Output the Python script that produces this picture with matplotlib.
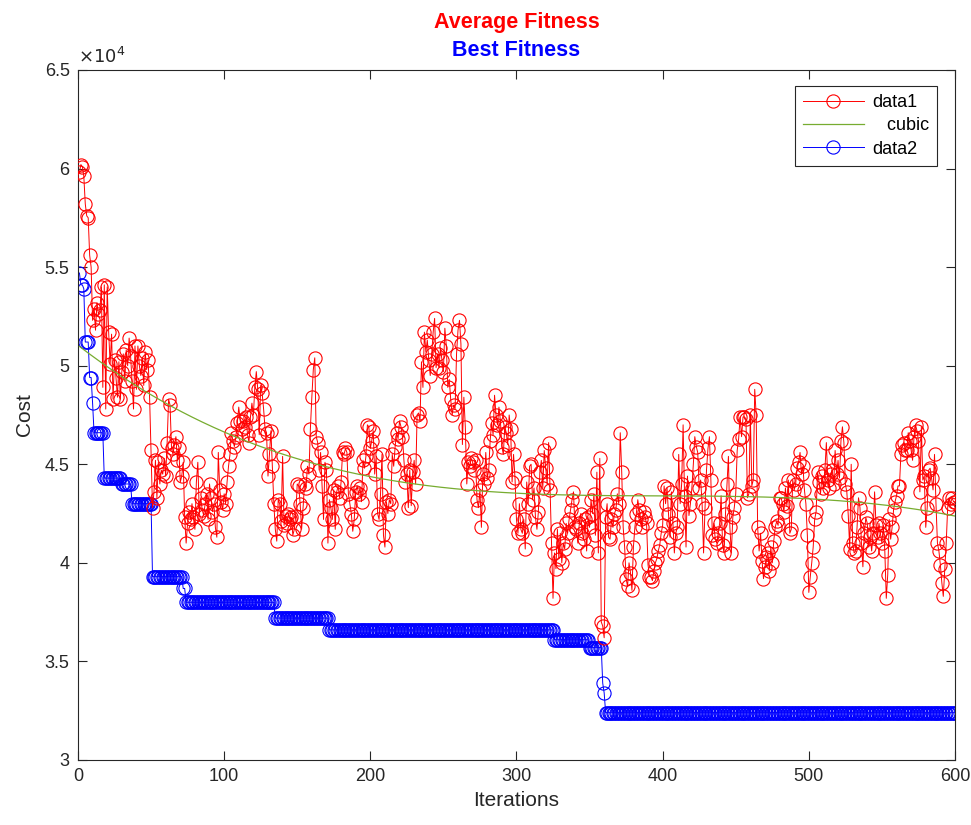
import numpy as np
import matplotlib
matplotlib.use("Agg")
import matplotlib.pyplot as plt
from matplotlib.ticker import FuncFormatter, MultipleLocator

# Average fitness per iteration (units of 1e4)
avg_fitness = [
    # 1-77
    5.98, 6.02, 6.01, 5.96, 5.82, 5.76, 5.75, 5.56, 5.50, 5.23,
    5.29, 5.18, 5.32, 5.26, 5.28, 5.40, 4.89, 5.41, 4.78, 5.40,
    5.17, 5.01, 5.16, 4.83, 5.03, 4.94, 4.84, 5.02, 4.83, 4.97,
    5.06, 4.92, 5.08, 5.00, 5.14, 5.05, 4.92, 4.78, 5.10, 4.88,
    5.10, 5.00, 4.95, 5.04, 4.90, 5.07, 4.98, 5.03, 4.84, 4.57,
    4.28, 4.36, 4.52, 4.33, 4.51, 4.40, 4.47, 4.45, 4.53, 4.44,
    4.61, 4.83, 4.80, 4.58, 4.55, 4.60, 4.64, 4.52, 4.58, 4.41,
    4.44, 4.51, 4.23, 4.10, 4.20, 4.26, 4.22,
    # 78-152
    4.30, 4.23, 4.17, 4.41, 4.51, 4.25, 4.33, 4.27, 4.24, 4.30,
    4.35, 4.22, 4.40, 4.33, 4.26, 4.30, 4.18, 4.13, 4.56, 4.37,
    4.31, 4.27, 4.35, 4.30, 4.41, 4.49, 4.55, 4.66, 4.62, 4.59,
    4.64, 4.71, 4.79, 4.72, 4.68, 4.72, 4.69, 4.74, 4.65, 4.61,
    4.74, 4.81, 4.75, 4.89, 4.97, 4.88, 4.65, 4.90, 4.86, 4.78,
    4.68, 4.66, 4.44, 4.55, 4.67, 4.49, 4.30, 4.17, 4.11, 4.32,
    4.30, 4.21, 4.54, 4.19, 4.24, 4.20, 4.25, 4.22, 4.23, 4.14,
    4.17, 4.24, 4.40, 4.39, 4.30,
    # 153-227
    4.17, 4.28, 4.40, 4.38, 4.49, 4.45, 4.68, 4.84, 4.98, 5.04,
    4.64, 4.61, 4.47, 4.56, 4.39, 4.22, 4.51, 4.47, 4.10, 4.32,
    4.28, 4.22, 4.37, 4.17, 4.36, 4.39, 4.33, 4.41, 4.56, 4.55,
    4.58, 4.56, 4.35, 4.30, 4.25, 4.16, 4.22, 4.36, 4.39, 4.35,
    4.38, 4.31, 4.52, 4.48, 4.54, 4.70, 4.69, 4.58, 4.62, 4.67,
    4.45, 4.54, 4.25, 4.22, 4.35, 4.55, 4.14, 4.08, 4.31, 4.25,
    4.32, 4.30, 4.55, 4.49, 4.59, 4.66, 4.63, 4.72, 4.69, 4.64,
    4.52, 4.41, 4.45, 4.28, 4.47,
    # 228-302
    4.29, 4.46, 4.52, 4.40, 4.75, 4.76, 4.72, 5.02, 4.89, 5.17,
    5.07, 5.13, 5.03, 4.95, 5.06, 5.17, 5.24, 4.99, 5.06, 4.99,
    5.09, 5.03, 4.97, 5.19, 5.10, 4.89, 4.93, 4.83, 4.75, 4.80,
    4.78, 5.06, 5.18, 5.23, 5.11, 4.60, 4.84, 4.69, 4.40, 4.51,
    4.49, 4.53, 4.51, 4.47, 4.52, 4.32, 4.28, 4.37, 4.18, 4.45,
    4.40, 4.56, 4.43, 4.47, 4.62, 4.71, 4.65, 4.85, 4.75, 4.70,
    4.79, 4.72, 4.59, 4.55, 4.69, 4.66, 4.60, 4.75, 4.68, 4.41,
    4.55, 4.43, 4.22, 4.15, 4.30,
    # 303-378
    4.17, 4.15, 4.22, 4.07, 4.41, 4.30, 4.49, 4.50, 4.32, 4.38,
    4.23, 4.17, 4.26, 4.46, 4.52, 4.38, 4.57, 4.48, 4.40, 4.61,
    4.37, 4.10, 3.82, 4.05, 3.97, 4.17, 4.02, 4.15, 4.00, 4.10,
    4.07, 4.20, 4.15, 4.22, 4.27, 4.32, 4.36, 4.18, 4.17, 4.10,
    4.20, 4.25, 4.15, 4.12, 4.22, 4.06, 4.23, 4.18, 4.32, 4.25,
    4.35, 4.14, 4.46, 4.05, 4.53, 3.70, 3.68, 3.62, 4.23, 4.30,
    4.13, 4.12, 4.22, 4.18, 4.25, 4.27, 4.35, 4.30, 4.66, 4.46,
    4.18, 4.08, 3.92, 3.88, 4.00, 3.95,
    # 379-453
    3.86, 4.08, 4.18, 4.25, 4.32, 4.27, 4.22, 4.18, 4.26, 4.23,
    4.20, 3.99, 3.93, 3.93, 3.91, 3.96, 4.00, 4.02, 4.06, 4.09,
    4.15, 4.19, 4.39, 4.30, 4.38, 4.25, 4.13, 4.36, 4.20, 4.05,
    4.15, 4.18, 4.55, 4.30, 4.40, 4.70, 4.34, 4.08, 4.44, 4.24,
    4.30, 4.38, 4.50, 4.64, 4.59, 4.56, 4.38, 4.42, 4.30, 4.05,
    4.28, 4.47, 4.58, 4.64, 4.42, 4.14, 4.20, 4.12, 4.10, 4.15,
    4.20, 4.34, 4.09, 4.05, 4.25, 4.40, 4.54, 4.18, 4.05, 4.23,
    4.28, 4.35, 4.57, 4.63, 4.74,
    # 454-528
    4.64, 4.74, 4.74, 4.73, 4.33, 4.35, 4.75, 4.39, 4.42, 4.88,
    4.75, 4.18, 4.06, 4.15, 4.01, 3.92, 3.98, 4.03, 4.05, 3.96,
    4.08, 4.00, 4.11, 4.18, 4.21, 4.19, 4.33, 4.33, 4.30, 4.26,
    4.38, 4.29, 4.42, 4.15, 4.17, 4.42, 4.37, 4.40, 4.48, 4.51,
    4.56, 4.45, 4.49, 4.37, 4.30, 4.14, 3.85, 3.93, 4.00, 4.08,
    4.22, 4.26, 4.46, 4.41, 4.35, 4.44, 4.38, 4.47, 4.61, 4.42,
    4.38, 4.45, 4.47, 4.40, 4.57, 4.45, 4.52, 4.43, 4.62, 4.69,
    4.61, 4.40, 4.36, 4.24, 4.07,
    # 529-600
    4.50, 4.10, 4.05, 4.06, 4.18, 4.33, 4.28, 4.10, 3.98, 4.15,
    4.23, 4.20, 4.08, 4.13, 4.06, 4.15, 4.36, 4.19, 4.13, 4.20,
    4.15, 4.10, 4.19, 4.06, 3.82, 3.94, 4.22, 4.12, 4.18, 4.27,
    4.31, 4.34, 4.39, 4.39, 4.55, 4.60, 4.61, 4.57, 4.57, 4.66,
    4.62, 4.57, 4.52, 4.64, 4.70, 4.67, 4.62, 4.36, 4.69, 4.42,
    4.44, 4.18, 4.28, 4.47, 4.48, 4.43, 4.37, 4.55, 4.30, 4.10,
    4.06, 3.99, 3.90, 3.83, 3.97, 4.10, 4.28, 4.33, 4.30, 4.33,
    4.31, 4.31,
]

# Best fitness is a staircase: level (units of 1e4) and how many iterations it holds
best_levels = [5.47, 5.41, 5.39, 5.12, 4.94, 4.81, 4.66, 4.43, 4.40, 4.30,
               3.93, 3.87, 3.80, 3.72, 3.66, 3.61, 3.57, 3.39, 3.34, 3.24]
best_runs = [1, 2, 1, 3, 2, 1, 7, 12, 7, 14,
             21, 2, 61, 37, 154, 24, 9, 1, 1, 240]

SCALE = 1e4

avg = np.array(avg_fitness) * SCALE
best = np.repeat(best_levels, best_runs) * SCALE
it_avg = np.arange(1, len(avg) + 1)
it_best = np.arange(1, len(best) + 1)

# cubic fit of the average fitness (MATLAB basic fitting)
coef = np.polyfit(it_avg, avg, 3)
cubic = np.polyval(coef, it_avg)

plt.rcParams["font.family"] = ["Liberation Sans", "DejaVu Sans"]

fig = plt.figure(figsize=(9.71, 8.25), dpi=100)
ax = fig.add_axes([0.0803, 0.0788, 0.9032, 0.8364])

ax.plot(it_avg, avg, color="red", lw=0.7, marker="o", ms=9.5, mfc="none",
        mew=0.8, label="data1", zorder=3)
ax.plot(it_avg, cubic, color="#77AC30", lw=0.9, label="   cubic", zorder=4)
ax.plot(it_best, best, color="blue", lw=0.7, marker="o", ms=9.5, mfc="none",
        mew=0.8, label="data2", zorder=2)

ax.set_xlim(0, 600)
ax.set_ylim(3e4, 6.5e4)
ax.xaxis.set_major_locator(MultipleLocator(100))
ax.yaxis.set_major_locator(MultipleLocator(5000))
ax.yaxis.set_major_formatter(FuncFormatter(lambda v, p: f"{v / SCALE:g}"))
ax.tick_params(direction="in", top=True, right=True, length=6.5, width=0.8,
               colors="#262626", labelsize=13, pad=6)
for s in ax.spines.values():
    s.set_color("#262626")
    s.set_linewidth(0.8)

ax.text(0.0, 1.005, r"$\times10^4$", transform=ax.transAxes, fontsize=13,
        color="#262626", ha="left", va="bottom")

ax.set_xlabel("Iterations", fontsize=15, color="#262626", labelpad=4)
ax.set_ylabel("Cost", fontsize=15, color="#262626", labelpad=8)

title_x = 0.0803 + 0.9032 / 2
fig.text(title_x, 0.973, "Average Fitness", color="red", fontsize=15.5,
         fontweight="bold", ha="center", va="center")
fig.text(title_x, 0.939, "Best Fitness", color="blue", fontsize=15.5,
         fontweight="bold", ha="center", va="center")

leg = ax.legend(loc="upper right", bbox_to_anchor=(0.98, 0.977),
                fontsize=13, fancybox=False, framealpha=1, handlelength=3.4,
                borderpad=0.45, labelspacing=0.35, handletextpad=0.45,
                borderaxespad=0.0)
leg.get_frame().set_edgecolor("#262626")
leg.get_frame().set_linewidth(0.8)

fig.savefig("out.png", dpi=100)
